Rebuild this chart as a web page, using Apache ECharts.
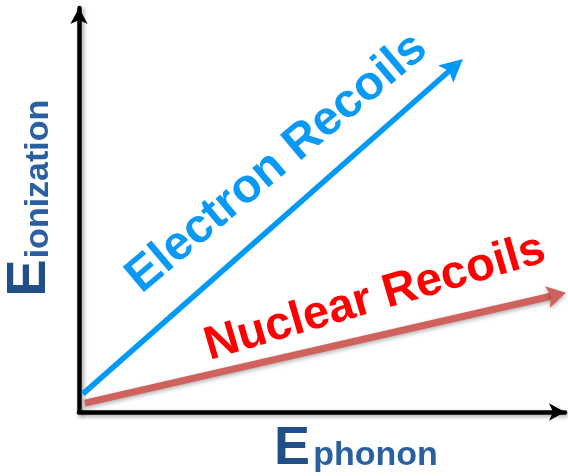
<!DOCTYPE html>
<html>
<head>
<meta charset="utf-8">
<script src="https://cdn.jsdelivr.net/npm/echarts@6/dist/echarts.min.js"></script>
<style>html,body{margin:0;padding:0;background:#fff}#c{width:568px;height:476px}</style>
</head>
<body>
<div id="c"></div>
<script>
// Data (schematic, arbitrary units 0..100): start and arrow-tip of each band
const seriesNames = ['Electron Recoils', 'Nuclear Recoils'];
const electronX = [0.8, 79.0];
const electronY = [4.5, 87.4];
const nuclearX = [1.2, 100.2];
const nuclearY = [2.2, 29.5];
const xLabel = ['E', 'phonon'];
const yLabel = ['E', 'ionization'];

const font = '"Liberation Sans", Arial, sans-serif';
const deg = d => d * Math.PI / 180;

function arrowSeries(name, xs, ys, color, width, headLen, headW, shadow) {
  return {
    name, type: 'custom', silent: true, clip: false,
    data: [[xs[0], ys[0], xs[xs.length - 1], ys[ys.length - 1]]],
    renderItem: function (params, api) {
      const p0 = api.coord([api.value(0), api.value(1)]);
      const p1 = api.coord([api.value(2), api.value(3)]);
      const dx = p1[0] - p0[0], dy = p1[1] - p0[1];
      const L = Math.hypot(dx, dy);
      const ux = dx / L, uy = dy / L, nx = -uy, ny = ux;
      const bx = p1[0] - ux * headLen, by = p1[1] - uy * headLen;
      const nt = 0.8 * headLen;
      const qx = p1[0] - ux * nt, qy = p1[1] - uy * nt;
      const h = headW / 2;
      return {
        type: 'group',
        children: [
          { type: 'line', shape: { x1: p0[0], y1: p0[1], x2: qx + ux * 2, y2: qy + uy * 2 },
            style: Object.assign({ stroke: color, lineWidth: width, lineCap: 'butt' }, shadow) },
          { type: 'polygon', shape: { points: [[p1[0], p1[1]], [bx + nx * h, by + ny * h], [qx, qy], [bx - nx * h, by - ny * h]] },
            style: Object.assign({ fill: color }, shadow) }
        ]
      };
    }
  };
}

const axisLineStyle = {
  color: '#000', width: 4.5,
  shadowColor: 'rgba(0,0,0,0.35)', shadowBlur: 4, shadowOffsetX: 2, shadowOffsetY: 2
};
const nuShadow = { shadowColor: 'rgba(0,0,0,0.3)', shadowBlur: 4, shadowOffsetY: 2 };

const chart = echarts.init(document.getElementById('c'), null, { renderer: 'canvas' });
chart.setOption({
  animation: false,
  backgroundColor: '#fff',
  grid: { left: 79, right: 3, top: 8, bottom: 64, containLabel: false },
  xAxis: {
    type: 'value', min: 0, max: 100,
    axisLine: { show: true, symbol: ['none', 'arrow'], symbolSize: [13, 16], lineStyle: axisLineStyle },
    axisTick: { show: false }, axisLabel: { show: false }, splitLine: { show: false }
  },
  yAxis: {
    type: 'value', min: 0, max: 100,
    axisLine: { show: true, symbol: ['none', 'arrow'], symbolSize: [13, 16], lineStyle: axisLineStyle },
    axisTick: { show: false }, axisLabel: { show: false }, splitLine: { show: false }
  },
  series: [
    arrowSeries(seriesNames[0], electronX, electronY, '#0099f5', 5.5, 23, 23, {}),
    arrowSeries(seriesNames[1], nuclearX, nuclearY, '#d0625d', 7, 19, 22, nuShadow)
  ],
  graphic: [
    { type: 'text', x: 277, y: 163, rotation: deg(40), silent: true,
      style: { text: seriesNames[0], fill: '#0a9af5', font: 'bold 48px ' + font, align: 'center', verticalAlign: 'middle' } },
    { type: 'text', x: 375, y: 298, rotation: deg(16.3), silent: true,
      style: { text: seriesNames[1], fill: '#ff0000', font: 'bold 47px ' + font, align: 'center', verticalAlign: 'middle' } },
    { type: 'text', x: 292, y: 449, silent: true,
      style: { text: xLabel[0], fill: '#214f8a', font: 'bold 54px ' + font, align: 'center', verticalAlign: 'middle' } },
    { type: 'text', x: 375.5, y: 456, silent: true,
      style: { text: xLabel[1], fill: '#2b60a0', font: 'bold 34px ' + font, align: 'center', verticalAlign: 'middle' } },
    { type: 'text', x: 30, y: 278, rotation: deg(90), silent: true,
      style: { text: yLabel[0], fill: '#214f8a', font: 'bold 56px ' + font, align: 'center', verticalAlign: 'middle' } },
    { type: 'text', x: 39, y: 179, rotation: deg(90), silent: true,
      style: { text: yLabel[1], fill: '#2b60a0', font: 'bold 34px ' + font, align: 'center', verticalAlign: 'middle' } }
  ]
});
</script>
</body>
</html>
